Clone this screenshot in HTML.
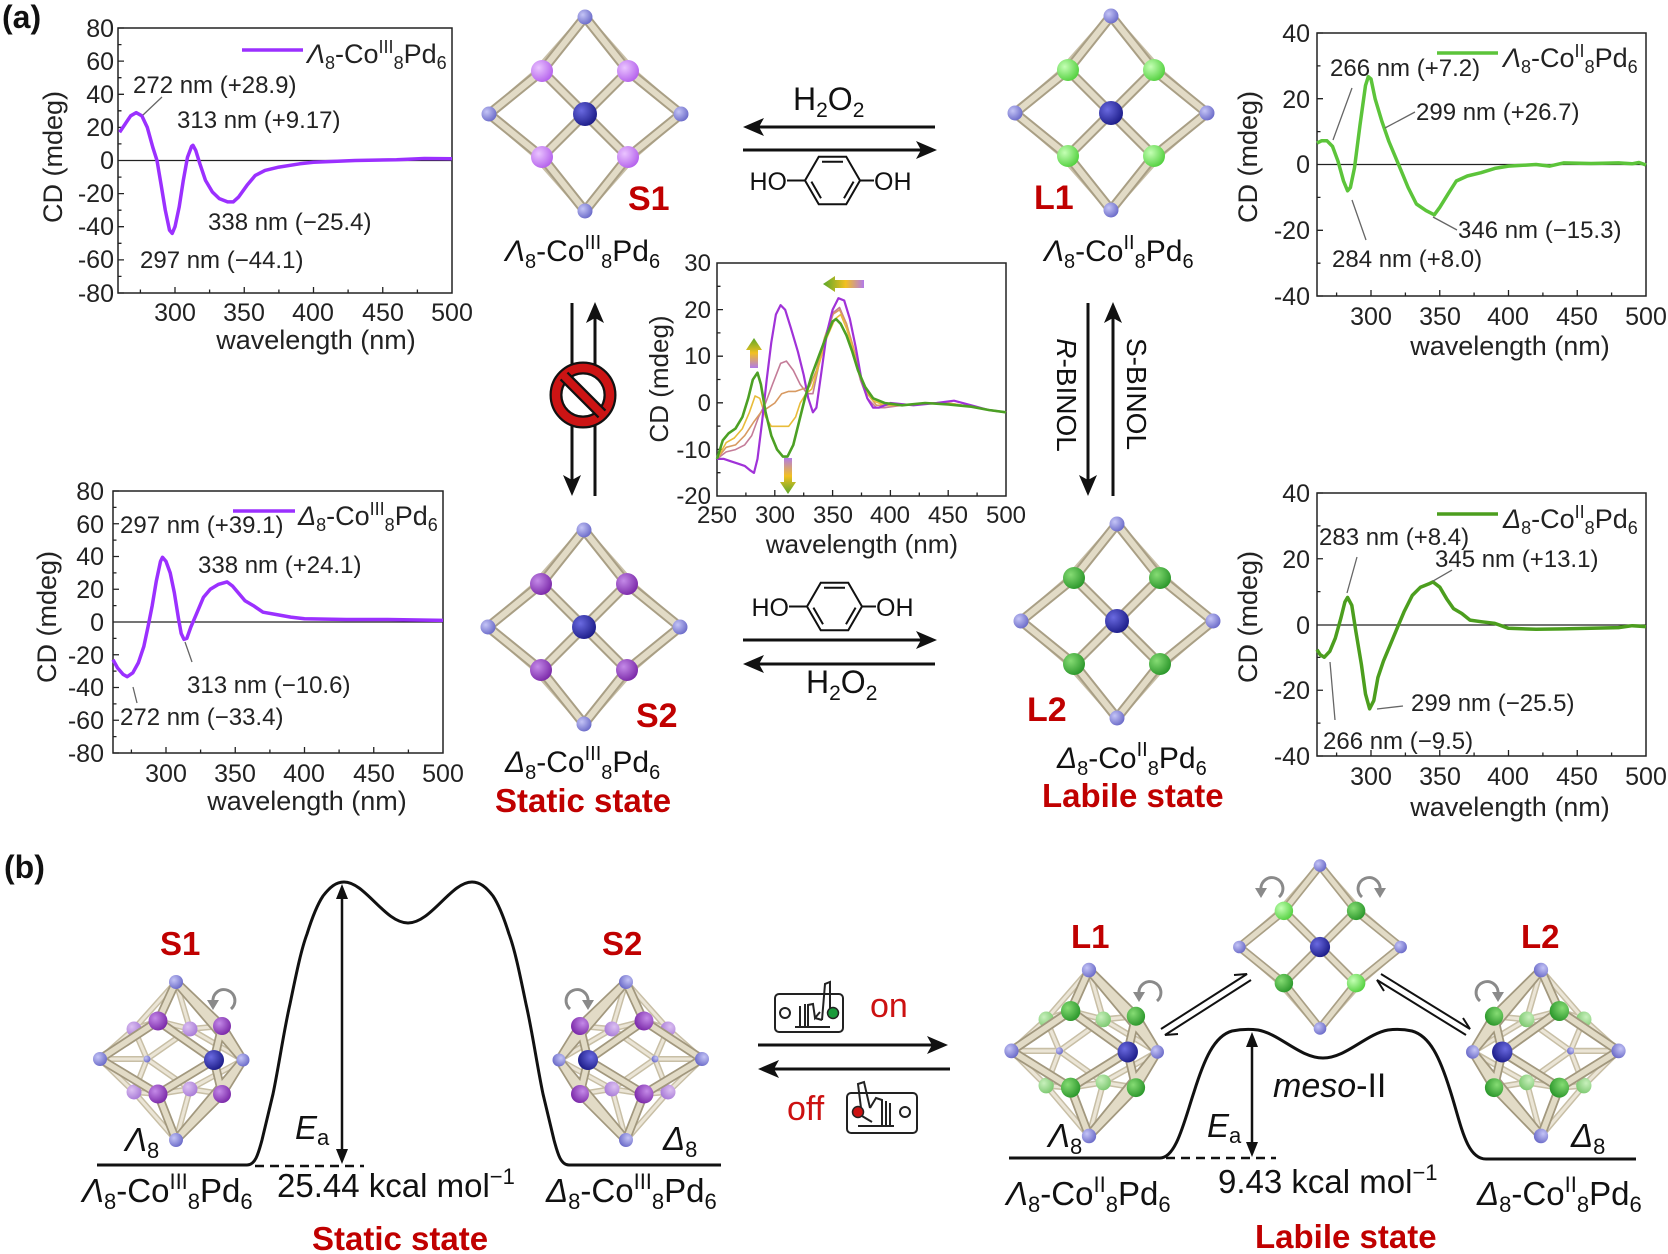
<!DOCTYPE html>
<html><head><meta charset="utf-8">
<style>
html,body{margin:0;padding:0;background:#fff;}
svg{display:block;font-family:"Liberation Sans",Arial,sans-serif;}
</style></head>
<body>
<svg width="1668" height="1254" viewBox="0 0 1668 1254" xmlns="http://www.w3.org/2000/svg">
<defs>
 <radialGradient id="gPd" cx="35%" cy="35%" r="70%"><stop offset="0" stop-color="#c4c4f6"/><stop offset="1" stop-color="#6a6ac8"/></radialGradient>
 <radialGradient id="gCo" cx="35%" cy="35%" r="70%"><stop offset="0" stop-color="#6a6ae0"/><stop offset="1" stop-color="#1c1c88"/></radialGradient>
 <radialGradient id="gPL" cx="35%" cy="35%" r="70%"><stop offset="0" stop-color="#eac4ff"/><stop offset="1" stop-color="#b461ec"/></radialGradient>
 <radialGradient id="gPD" cx="35%" cy="35%" r="70%"><stop offset="0" stop-color="#c48ae8"/><stop offset="1" stop-color="#7a28a8"/></radialGradient>
 <radialGradient id="gPB" cx="35%" cy="35%" r="70%"><stop offset="0" stop-color="#dcc0f2"/><stop offset="1" stop-color="#a77ad6"/></radialGradient>
 <radialGradient id="gGL" cx="35%" cy="35%" r="70%"><stop offset="0" stop-color="#c4ffb4"/><stop offset="1" stop-color="#52d03e"/></radialGradient>
 <radialGradient id="gGD" cx="35%" cy="35%" r="70%"><stop offset="0" stop-color="#86dc74"/><stop offset="1" stop-color="#2a962a"/></radialGradient>
 <radialGradient id="gGB" cx="35%" cy="35%" r="70%"><stop offset="0" stop-color="#c8f0bc"/><stop offset="1" stop-color="#7cc870"/></radialGradient>
 <linearGradient id="gArrH" x1="0" y1="0" x2="1" y2="0"><stop offset="0" stop-color="#5aa82a"/><stop offset="0.55" stop-color="#f2c020"/><stop offset="1" stop-color="#b27ae8"/></linearGradient>
 <linearGradient id="gArrU" x1="0" y1="0" x2="0" y2="1"><stop offset="0" stop-color="#5aa82a"/><stop offset="0.5" stop-color="#f2c020"/><stop offset="1" stop-color="#b27ae8"/></linearGradient>
 <linearGradient id="gArrD" x1="0" y1="1" x2="0" y2="0"><stop offset="0" stop-color="#5aa82a"/><stop offset="0.5" stop-color="#f2c020"/><stop offset="1" stop-color="#b27ae8"/></linearGradient>

 <path id="dRods" d="M0,-97 L-43,-43 L-96,0 L-43,43 L0,97 L43,43 L96,0 L43,-43 Z M-43,-43 L43,43 M43,-43 L-43,43"/>
 <path id="dBack" d="M0,-97 L-52,-38 L-96,0 L-52,38 L0,97 L52,38 L96,0 L52,-38 Z"/>
 <g id="dPd"><circle cx="0" cy="-97" r="7.5"/><circle cx="0" cy="97" r="7.5"/><circle cx="-96" cy="0" r="7.5"/><circle cx="96" cy="0" r="7.5"/></g>
 <g id="dCol"><circle cx="-43" cy="-43" r="11"/><circle cx="43" cy="-43" r="11"/><circle cx="-43" cy="43" r="11"/><circle cx="43" cy="43" r="11"/></g>

 <path id="cBack" d="M0,-79 L-42,-32 M0,-79 L14,-32 M0,79 L-42,31 M0,79 L14,28 M-76,-2 L-42,-32 M-76,-2 L-42,31 M67,-1 L14,-32 M67,-1 L14,28 M-29,-2 L-42,-32 M-29,-2 L-42,31 M-29,-2 L14,-32 M-29,-2 L14,28 M-42,-32 L-18,-40 M14,-32 L46,-35 M-42,31 L-18,33 M14,28 L46,33 M-29,-2 L-76,-2 M14,-32 L-18,-40 M14,28 L-18,33"/>
 <path id="cFront" d="M0,-79 L-18,-40 M0,-79 L46,-35 M0,79 L-18,33 M0,79 L46,33 M-76,-2 L-18,-40 M-76,-2 L-18,33 M-18,-40 L38,-1 M-18,33 L38,-1 M46,-35 L38,-1 M46,33 L38,-1 M46,-35 L67,-1 M46,33 L67,-1 M0,-79 L67,-1 M0,79 L67,-1"/>
 <g id="cPdN"><circle cx="0" cy="-79" r="7"/><circle cx="0" cy="79" r="7"/><circle cx="-76" cy="-2" r="7"/><circle cx="67" cy="-1" r="6.5"/><circle cx="-29" cy="-2" r="3.5"/></g>
 <g id="cBackN"><circle cx="-42" cy="-32" r="7.5"/><circle cx="14" cy="-32" r="7.5"/><circle cx="-42" cy="31" r="7.5"/><circle cx="14" cy="28" r="7.5"/></g>
 <g id="cFrontN"><circle cx="-18" cy="-40" r="9.5"/><circle cx="46" cy="-35" r="9"/><circle cx="-18" cy="33" r="9.5"/><circle cx="46" cy="33" r="9"/></g>

 <g id="hq" fill="none" stroke="#111" stroke-width="2">
  <path d="M805,180.5 L818.75,156.7 L846.25,156.7 L860,180.5 L846.25,204.3 L818.75,204.3 Z"/>
  <path d="M822,161.8 L843,161.8 M811.4,181.6 L821,198.2 M853.6,181.6 L844,198.2 M787,180.5 L805,180.5 M860,180.5 L874,180.5"/>
 </g>
</defs>

<rect width="1668" height="1254" fill="#fff"/>

<!-- panel labels -->
<text x="2" y="28" font-size="32" font-weight="bold" fill="#111">(a)</text>
<text x="4" y="878" font-size="32" font-weight="bold" fill="#111">(b)</text>

<!-- ============ TOP-LEFT PLOT ============ -->
<g fill="#222" font-size="25">
 <rect x="118" y="28" width="334" height="265" fill="none" stroke="#222" stroke-width="1.5"/>
 <line x1="118" y1="160.5" x2="452" y2="160.5" stroke="#222" stroke-width="1.2"/>
 <path stroke="#222" stroke-width="1.3" d="M118,28h6M118,61.1h6M118,94.3h6M118,127.4h6M118,193.6h6M118,226.7h6M118,259.9h6M118,293h6M118,44.6h3.5M118,77.7h3.5M118,110.8h3.5M118,143.9h3.5M118,177.1h3.5M118,210.2h3.5M118,243.3h3.5M118,276.4h3.5M175,293v-6M244.25,293v-6M313.5,293v-6M382.75,293v-6M140.4,293v-3.5M209.6,293v-3.5M278.9,293v-3.5M348.1,293v-3.5M417.4,293v-3.5"/>
 <g text-anchor="end">
  <text x="114" y="37">80</text><text x="114" y="70">60</text><text x="114" y="103">40</text><text x="114" y="136">20</text><text x="114" y="169">0</text><text x="114" y="202">-20</text><text x="114" y="235">-40</text><text x="114" y="268">-60</text><text x="114" y="302">-80</text>
 </g>
 <g text-anchor="middle">
  <text x="175" y="321">300</text><text x="244" y="321">350</text><text x="313" y="321">400</text><text x="383" y="321">450</text><text x="452" y="321">500</text>
  <text x="316" y="349" font-size="27">wavelength (nm)</text>
  <text transform="translate(62,157) rotate(-90)" font-size="27">CD (mdeg)</text>
 </g>
 <polyline fill="none" stroke="#9b30ff" stroke-width="3.5" stroke-linejoin="round" points="119.6,132.3 125.1,124.1 130.7,115.8 136.2,112.6 141.8,115.8 147.3,127.4 152.8,147.3 157,160.5 161.2,185.3 165.3,210.2 169.5,230.1 172.2,233.4 175,226.7 179.2,206.9 183.3,180.4 187.5,157.2 191.6,146.4 193,145.3 195.8,150.6 199.9,163.8 205.5,180.4 212.4,192 219.3,198.6 227.6,201.9 233.2,201.9 238.7,196.9 247,185.3 255.3,175.4 265,170.4 278.9,167.1 299.7,163.8 313.5,162.2 355.1,160.5 396.6,159.7 424.3,158.5 452,158.8"/>
 <line x1="242" y1="50" x2="303" y2="50" stroke="#9b30ff" stroke-width="3.5"/>
 <text x="307" y="63" font-size="27"><tspan font-style="italic">Λ</tspan><tspan font-size="18" dy="6">8</tspan><tspan dy="-6">-Co</tspan><tspan font-size="18" dy="-10">III</tspan><tspan font-size="18" dy="16">8</tspan><tspan dy="-6">Pd</tspan><tspan font-size="18" dy="6">6</tspan></text>
 <line x1="143" y1="115" x2="162" y2="97" stroke="#666" stroke-width="1.3"/>
 <g font-size="24">
  <text x="133" y="93">272 nm (+28.9)</text><text x="177" y="128">313 nm (+9.17)</text><text x="208" y="230">338 nm (−25.4)</text><text x="140" y="268">297 nm (−44.1)</text>
 </g>
</g>

<!-- ============ TOP-RIGHT PLOT ============ -->
<g fill="#222" font-size="25">
 <rect x="1317" y="33" width="329" height="263" fill="none" stroke="#222" stroke-width="1.5"/>
 <line x1="1317" y1="164.5" x2="1646" y2="164.5" stroke="#222" stroke-width="1.2"/>
 <path stroke="#222" stroke-width="1.3" d="M1317,33h6M1317,98.7h6M1317,230.3h6M1317,296h6M1317,65.9h3.5M1317,131.6h3.5M1317,197.4h3.5M1317,263.2h3.5M1371,296v-6M1439.75,296v-6M1508.5,296v-6M1577.25,296v-6M1336.6,296v-3.5M1405.4,296v-3.5M1474.1,296v-3.5M1542.9,296v-3.5M1611.6,296v-3.5"/>
 <g text-anchor="end">
  <text x="1310" y="42">40</text><text x="1310" y="108">20</text><text x="1310" y="173">0</text><text x="1310" y="239">-20</text><text x="1310" y="305">-40</text>
 </g>
 <g text-anchor="middle">
  <text x="1371" y="325">300</text><text x="1440" y="325">350</text><text x="1508" y="325">400</text><text x="1577" y="325">450</text><text x="1646" y="325">500</text>
  <text x="1510" y="355" font-size="27">wavelength (nm)</text>
  <text transform="translate(1257,157) rotate(-90)" font-size="27">CD (mdeg)</text>
 </g>
 <polyline fill="none" stroke="#5cc43a" stroke-width="3.5" stroke-linejoin="round" points="1317,143.1 1321.5,140.8 1327,140.8 1332.5,146.4 1338,161.2 1343.5,181 1347.6,190.8 1350.4,187.5 1354.5,167.8 1360,125 1365.5,85.5 1368.3,76.7 1371,79 1375.1,98.7 1382,121.7 1388.9,141.5 1395.8,157.9 1401.3,171.1 1408.1,187.5 1416.4,204 1426,210.6 1434.3,214.8 1439.8,207.3 1448,194.1 1456.3,181 1467.3,176 1481,172.7 1494.8,168.4 1508.5,166.1 1536,164.5 1549.8,166.1 1563.5,162.9 1591,163.5 1618.5,162.9 1632,163.8 1639,162.5 1646,165"/>
 <line x1="1437" y1="53" x2="1498" y2="53" stroke="#5cc43a" stroke-width="3.5"/>
 <text x="1503" y="67" font-size="27"><tspan font-style="italic">Λ</tspan><tspan font-size="18" dy="6">8</tspan><tspan dy="-6">-Co</tspan><tspan font-size="18" dy="-10">II</tspan><tspan font-size="18" dy="16">8</tspan><tspan dy="-6">Pd</tspan><tspan font-size="18" dy="6">6</tspan></text>
 <path stroke="#666" stroke-width="1.3" fill="none" d="M1333,140 L1352,88 M1352,200 L1366,240 M1385,128 L1415,112 M1433,217 L1457,230"/>
 <g font-size="24">
  <text x="1330" y="76">266 nm (+7.2)</text><text x="1416" y="120">299 nm (+26.7)</text><text x="1458" y="238">346 nm (−15.3)</text><text x="1332" y="267">284 nm (+8.0)</text>
 </g>
</g>

<!-- ============ BOTTOM-LEFT PLOT ============ -->
<g fill="#222" font-size="25">
 <rect x="113" y="491" width="330" height="262" fill="none" stroke="#222" stroke-width="1.5"/>
 <line x1="113" y1="622" x2="443" y2="622" stroke="#222" stroke-width="1.2"/>
 <path stroke="#222" stroke-width="1.3" d="M113,491h6M113,523.75h6M113,556.5h6M113,589.25h6M113,654.75h6M113,687.5h6M113,720.25h6M113,753h6M113,507.4h3.5M113,540.1h3.5M113,572.9h3.5M113,605.6h3.5M113,638.4h3.5M113,671.1h3.5M113,703.9h3.5M113,736.6h3.5M166,753v-6M235.25,753v-6M304.5,753v-6M373.75,753v-6M131.4,753v-3.5M200.6,753v-3.5M269.9,753v-3.5M339.1,753v-3.5M408.4,753v-3.5"/>
 <g text-anchor="end">
  <text x="104" y="500">80</text><text x="104" y="533">60</text><text x="104" y="565">40</text><text x="104" y="598">20</text><text x="104" y="631">0</text><text x="104" y="664">-20</text><text x="104" y="696">-40</text><text x="104" y="729">-60</text><text x="104" y="762">-80</text>
 </g>
 <g text-anchor="middle">
  <text x="166" y="782">300</text><text x="235" y="782">350</text><text x="304" y="782">400</text><text x="374" y="782">450</text><text x="443" y="782">500</text>
  <text x="307" y="810" font-size="27">wavelength (nm)</text>
  <text transform="translate(56,617) rotate(-90)" font-size="27">CD (mdeg)</text>
 </g>
 <polyline fill="none" stroke="#9b30ff" stroke-width="3.5" stroke-linejoin="round" points="113,659.7 117.5,667.9 123.1,674.4 127.2,676.7 132.8,672.8 138.3,662.9 143.8,646.6 148,626.9 152.2,605.6 156.3,581.1 160.5,561.4 162.5,557.3 166,561.4 170.2,572.9 174.3,592.5 178.5,618.7 181.2,633.5 184,639.4 186.8,638.4 190.9,626.9 196.5,613.8 203.4,597.4 210.3,589.3 218.6,584.3 227,581.9 232.5,586 238,592.5 245,600.7 253.3,605.6 263,612.2 276.8,614.6 290.7,617.1 304.5,618.7 346.1,619.5 387.6,619.5 443,620.4"/>
 <line x1="233" y1="511" x2="295" y2="511" stroke="#9b30ff" stroke-width="3.5"/>
 <text x="298" y="525" font-size="27"><tspan font-style="italic">Δ</tspan><tspan font-size="18" dy="6">8</tspan><tspan dy="-6">-Co</tspan><tspan font-size="18" dy="-10">III</tspan><tspan font-size="18" dy="16">8</tspan><tspan dy="-6">Pd</tspan><tspan font-size="18" dy="6">6</tspan></text>
 <path stroke="#666" stroke-width="1.3" fill="none" d="M185,642 L192,662 M133,687 L137,703"/>
 <g font-size="24">
  <text x="120" y="533">297 nm (+39.1)</text><text x="198" y="573">338 nm (+24.1)</text><text x="187" y="693">313 nm (−10.6)</text><text x="120" y="725">272 nm (−33.4)</text>
 </g>
</g>

<!-- ============ BOTTOM-RIGHT PLOT ============ -->
<g fill="#222" font-size="25">
 <rect x="1317" y="493" width="329" height="263" fill="none" stroke="#222" stroke-width="1.5"/>
 <line x1="1317" y1="625" x2="1646" y2="625" stroke="#222" stroke-width="1.2"/>
 <path stroke="#222" stroke-width="1.3" d="M1317,493h6M1317,558.75h6M1317,690.25h6M1317,756h6M1317,525.9h3.5M1317,591.6h3.5M1317,657.4h3.5M1317,723.1h3.5M1371,756v-6M1439.75,756v-6M1508.5,756v-6M1577.25,756v-6M1336.6,756v-3.5M1405.4,756v-3.5M1474.1,756v-3.5M1542.9,756v-3.5M1611.6,756v-3.5"/>
 <g text-anchor="end">
  <text x="1310" y="502">40</text><text x="1310" y="568">20</text><text x="1310" y="634">0</text><text x="1310" y="699">-20</text><text x="1310" y="765">-40</text>
 </g>
 <g text-anchor="middle">
  <text x="1371" y="785">300</text><text x="1440" y="785">350</text><text x="1508" y="785">400</text><text x="1577" y="785">450</text><text x="1646" y="785">500</text>
  <text x="1510" y="816" font-size="27">wavelength (nm)</text>
  <text transform="translate(1257,617) rotate(-90)" font-size="27">CD (mdeg)</text>
 </g>
 <polyline fill="none" stroke="#4c9e1e" stroke-width="3.5" stroke-linejoin="round" points="1317,649.7 1320.1,654.6 1324.3,657.2 1329.8,651.3 1335.3,638.2 1340.8,618.4 1344.9,602 1347.6,597.4 1351.8,605.3 1355.9,631.6 1361.4,664.5 1365.5,694 1369.6,708.8 1373.8,700.6 1377.9,677.6 1383.4,661.2 1390.3,644.7 1397.1,628.3 1404,611.9 1412.3,595.4 1420.5,587.2 1428.8,583.9 1432.9,581.9 1439.8,587.2 1446.6,598.7 1453.5,608.6 1461.8,613.5 1470,620.1 1481,621.7 1494.8,623.4 1508.5,628.3 1536,629.3 1563.5,628.9 1591,628.3 1618.5,627.6 1632.3,625.7 1646,626.6"/>
 <line x1="1437" y1="514" x2="1498" y2="514" stroke="#4c9e1e" stroke-width="3.5"/>
 <text x="1503" y="528" font-size="27"><tspan font-style="italic">Δ</tspan><tspan font-size="18" dy="6">8</tspan><tspan dy="-6">-Co</tspan><tspan font-size="18" dy="-10">II</tspan><tspan font-size="18" dy="16">8</tspan><tspan dy="-6">Pd</tspan><tspan font-size="18" dy="6">6</tspan></text>
 <path stroke="#666" stroke-width="1.3" fill="none" d="M1347,593 L1357,557 M1433,581 L1452,570 M1377,709 L1403,706 M1330,662 L1335,720"/>
 <g font-size="24">
  <text x="1319" y="545">283 nm (+8.4)</text><text x="1435" y="567">345 nm (+13.1)</text><text x="1411" y="711">299 nm (−25.5)</text><text x="1323" y="749">266 nm (−9.5)</text>
 </g>
</g>

<!-- ============ CENTER PLOT ============ -->
<g fill="#222" font-size="24">
 <rect x="717" y="263" width="289" height="233" fill="none" stroke="#222" stroke-width="1.5"/>
 <path stroke="#222" stroke-width="1.3" d="M717,309.6h6M717,356.2h6M717,402.8h6M717,449.4h6M717,286.3h3.5M717,332.9h3.5M717,379.5h3.5M717,426.1h3.5M717,472.7h3.5M774.8,496v-6M832.6,496v-6M890.4,496v-6M948.2,496v-6M745.9,496v-3.5M803.7,496v-3.5M861.5,496v-3.5M919.3,496v-3.5M977.1,496v-3.5"/>
 <g text-anchor="end">
  <text x="711" y="271">30</text><text x="711" y="318">20</text><text x="711" y="364">10</text><text x="711" y="411">0</text><text x="711" y="458">-10</text><text x="711" y="504">-20</text>
 </g>
 <g text-anchor="middle">
  <text x="717" y="523">250</text><text x="775" y="523">300</text><text x="833" y="523">350</text><text x="890" y="523">400</text><text x="948" y="523">450</text><text x="1006" y="523">500</text>
  <text x="862" y="553" font-size="26">wavelength (nm)</text>
  <text transform="translate(668,379) rotate(-90)" font-size="26">CD (mdeg)</text>
 </g>
 <g fill="none" stroke-linejoin="round">
 <polyline stroke="#c47c98" stroke-width="1.6" points="717,458.9 726.2,451.9 735.5,449.6 744.7,444.9 751.7,435.6 758.6,417 765.6,403 772.5,384.4 780.6,363.4 786.4,361.1 793.3,370.4 800.2,384.4 807.2,393.7 812.9,393.7 818.7,365.7 826.8,333.1 833.8,312.1 839.5,307.5 846.5,323.8 853.4,351.7 860.3,379.7 867.3,398.3 876.5,407.7 884.6,407.7 902,405.3 925.1,403 948.2,403 971.3,406.7 988.7,410 1006,412.3"/>
 <polyline stroke="#d89a62" stroke-width="1.6" points="717,458.9 726.2,447.3 735.5,444.9 744.7,435.6 754,421.6 760.9,412.3 767.9,407.7 774.8,403 781.7,393.7 788.7,391.4 795.6,391.4 802.5,389 809.5,386.7 816.4,370.4 824.5,337.8 832.6,314.5 839.5,309.8 846.5,323.8 853.4,347.1 860.3,375 867.3,393.7 876.5,405.3 884.6,405.3 902,405.3 925.1,403 948.2,403 971.3,406.7 988.7,410 1006,412.3"/>
 <polyline stroke="#e8bc3a" stroke-width="1.6" points="717,458.9 726.2,442.6 734.3,438 742.4,428.6 749.4,412.3 755.1,396 759.8,398.3 765.6,417 771.3,426.3 780.6,426.3 788.7,426.3 795.6,417 800.2,403 806,393.7 811.8,389 818.7,365.7 826.8,337.8 834.9,319.1 840.7,314.5 846.5,328.4 852.3,347.1 858,370.4 865,389 873.1,400.7 884.6,405.3 902,405.3 925.1,403 948.2,403 971.3,406.7 988.7,410 1006,412.3"/>
 <polyline stroke="#a032d8" stroke-width="2.2" points="717,458.9 723.9,458.9 730.9,461.3 737.8,463.6 744.7,465.9 750.5,470.6 754,472.9 757.5,458.9 762.1,421.6 766.7,379.7 771.3,342.4 775.9,314.5 780.6,305.1 785.2,309.8 791,328.4 797.9,351.7 803.7,375 808.3,398.3 812.9,412.3 816.4,407.7 821,375 826.8,333.1 832.6,309.8 838.4,298.2 844.2,300.5 849.9,319.1 855.7,347.1 861.5,379.7 867.3,398.3 873.1,407.7 878.8,407.7 890.4,403 913.5,405.3 936.6,403 954,400.7 971.3,405.3 988.7,410 1006,412.3"/>
 <polyline stroke="#4ca024" stroke-width="2.6" points="717,458.9 722.8,440.3 728.6,433.3 735.5,428.6 742.4,417 748.2,398.3 752.8,379.7 757.5,372.7 760.9,384.4 765.6,412.3 771.3,435.6 777.1,449.6 782.9,456.6 787.5,456.6 793.3,444.9 799.1,421.6 804.9,398.3 811.8,375 818.7,356.4 825.7,337.8 832.6,321.4 836.1,319.1 840.7,323.8 846.5,335.4 852.3,351.7 858,370.4 865,386.7 873.1,398.3 884.6,403 902,405.3 925.1,403 948.2,404.4 971.3,406.7 988.7,410 1006,412.3"/>
 </g>
 <path fill="url(#gArrH)" d="M823,284 L835,276 L835,280 L864,280 L864,288 L835,288 L835,292 Z"/>
 <path fill="url(#gArrU)" d="M754,338 L762,350 L758,350 L758,368 L750,368 L750,350 L746,350 Z"/>
 <path fill="url(#gArrD)" d="M788,494 L780,482 L784,482 L784,458 L792,458 L792,482 L796,482 Z"/>
</g>

<!-- ============ STRUCTURES (a) ============ -->
<g stroke-linejoin="round" stroke-linecap="round">
 <g transform="translate(585,114)">
  <use href="#dBack" fill="none" stroke="#c9c0a8" stroke-width="8"/><use href="#dBack" fill="none" stroke="#ebe5d6" stroke-width="4"/>
  <use href="#dRods" fill="none" stroke="#a99f85" stroke-width="10"/><use href="#dRods" fill="none" stroke="#e2dbc6" stroke-width="6"/>
  <use href="#dPd" fill="url(#gPd)"/><use href="#dCol" fill="url(#gPL)"/><circle r="12" fill="url(#gCo)"/>
 </g>
 <g transform="translate(1111,113)">
  <use href="#dBack" fill="none" stroke="#c9c0a8" stroke-width="8"/><use href="#dBack" fill="none" stroke="#ebe5d6" stroke-width="4"/>
  <use href="#dRods" fill="none" stroke="#a99f85" stroke-width="10"/><use href="#dRods" fill="none" stroke="#e2dbc6" stroke-width="6"/>
  <use href="#dPd" fill="url(#gPd)"/><use href="#dCol" fill="url(#gGL)"/><circle r="12" fill="url(#gCo)"/>
 </g>
 <g transform="translate(584,627)">
  <use href="#dBack" fill="none" stroke="#c9c0a8" stroke-width="8"/><use href="#dBack" fill="none" stroke="#ebe5d6" stroke-width="4"/>
  <use href="#dRods" fill="none" stroke="#a99f85" stroke-width="10"/><use href="#dRods" fill="none" stroke="#e2dbc6" stroke-width="6"/>
  <use href="#dPd" fill="url(#gPd)"/><use href="#dCol" fill="url(#gPD)"/><circle r="12" fill="url(#gCo)"/>
 </g>
 <g transform="translate(1117,621)">
  <use href="#dBack" fill="none" stroke="#c9c0a8" stroke-width="8"/><use href="#dBack" fill="none" stroke="#ebe5d6" stroke-width="4"/>
  <use href="#dRods" fill="none" stroke="#a99f85" stroke-width="10"/><use href="#dRods" fill="none" stroke="#e2dbc6" stroke-width="6"/>
  <use href="#dPd" fill="url(#gPd)"/><use href="#dCol" fill="url(#gGD)"/><circle r="12" fill="url(#gCo)"/>
 </g>
</g>

<!-- labels (a) -->
<g fill="#c00000" font-weight="bold" font-size="34">
 <text x="628" y="210">S1</text><text x="1034" y="209">L1</text><text x="636" y="727">S2</text><text x="1027" y="721">L2</text>
 <text x="495" y="812" font-size="33">Static state</text><text x="1042" y="807" font-size="33">Labile state</text>
</g>
<g fill="#111" font-size="30">
 <text x="505" y="261"><tspan font-style="italic">Λ</tspan><tspan font-size="20" dy="7">8</tspan><tspan dy="-7">-Co</tspan><tspan font-size="20" dy="-12">III</tspan><tspan font-size="20" dy="19">8</tspan><tspan dy="-7">Pd</tspan><tspan font-size="20" dy="7">6</tspan></text>
 <text x="1044" y="261"><tspan font-style="italic">Λ</tspan><tspan font-size="20" dy="7">8</tspan><tspan dy="-7">-Co</tspan><tspan font-size="20" dy="-12">II</tspan><tspan font-size="20" dy="19">8</tspan><tspan dy="-7">Pd</tspan><tspan font-size="20" dy="7">6</tspan></text>
 <text x="505" y="772"><tspan font-style="italic">Δ</tspan><tspan font-size="20" dy="7">8</tspan><tspan dy="-7">-Co</tspan><tspan font-size="20" dy="-12">III</tspan><tspan font-size="20" dy="19">8</tspan><tspan dy="-7">Pd</tspan><tspan font-size="20" dy="7">6</tspan></text>
 <text x="1057" y="768"><tspan font-style="italic">Δ</tspan><tspan font-size="20" dy="7">8</tspan><tspan dy="-7">-Co</tspan><tspan font-size="20" dy="-12">II</tspan><tspan font-size="20" dy="19">8</tspan><tspan dy="-7">Pd</tspan><tspan font-size="20" dy="7">6</tspan></text>
 <text x="793" y="110" font-size="32">H<tspan font-size="21" dy="7">2</tspan><tspan dy="-7">O</tspan><tspan font-size="21" dy="7">2</tspan></text>
 <text x="806" y="693" font-size="32">H<tspan font-size="21" dy="7">2</tspan><tspan dy="-7">O</tspan><tspan font-size="21" dy="7">2</tspan></text>
 <text x="787" y="190" font-size="25" text-anchor="end">HO</text><text x="874" y="190" font-size="25">OH</text>
 <text x="789" y="616" font-size="25" text-anchor="end">HO</text><text x="876" y="616" font-size="25">OH</text>
</g>
<use href="#hq"/>
<use href="#hq" transform="translate(2,426)"/>

<!-- reaction arrows (a) -->
<g stroke="#111" stroke-width="3" fill="#111">
 <line x1="750" y1="127" x2="935" y2="127"/><path stroke="none" d="M743,127 L764,118 L759,127 L764,136 Z"/>
 <line x1="743" y1="150" x2="930" y2="150"/><path stroke="none" d="M937,150 L916,141 L921,150 L916,159 Z"/>
 <line x1="743" y1="640" x2="930" y2="640"/><path stroke="none" d="M937,640 L916,631 L921,640 L916,649 Z"/>
 <line x1="750" y1="664" x2="935" y2="664"/><path stroke="none" d="M743,664 L764,655 L759,664 L764,673 Z"/>
 <line x1="572" y1="303" x2="572" y2="489"/><path stroke="none" d="M572,496 L563,475 L572,480 L581,475 Z"/>
 <line x1="595" y1="309" x2="595" y2="496"/><path stroke="none" d="M595,302 L586,323 L595,318 L604,323 Z"/>
 <line x1="1088" y1="303" x2="1088" y2="489"/><path stroke="none" d="M1088,496 L1079,475 L1088,480 L1097,475 Z"/>
 <line x1="1113" y1="309" x2="1113" y2="496"/><path stroke="none" d="M1113,302 L1104,323 L1113,318 L1122,323 Z"/>
</g>
<!-- prohibition sign -->
<g transform="translate(583,395)">
 <circle r="27" fill="#fff" stroke="#111" stroke-width="13"/>
 <circle r="27" fill="none" stroke="#cc1414" stroke-width="8.5"/>
 <line x1="-19" y1="-19" x2="19" y2="19" stroke="#111" stroke-width="12"/>
 <line x1="-20" y1="-20" x2="20" y2="20" stroke="#cc1414" stroke-width="7.5"/>
</g>
<g fill="#111" font-size="28" text-anchor="middle">
 <text transform="translate(1057,395) rotate(90)"><tspan font-style="italic">R</tspan>-BINOL</text>
 <text transform="translate(1127,394) rotate(90)">S-BINOL</text>
</g>

<!-- ============ PART (b) ============ -->
<g fill="none" stroke="#111" stroke-width="3">
 <path d="M97,1165 L247,1165 C255,1165 258,1155 262,1140 L273,1094 C279,1065 284,1030 290,1004 C296,975 301,950 307,934 C312,918 317,905 323,896 C330,887 336,882 344,882 C365,882 385,923 408,923 C431,923 451,882 472,882 C480,882 486,887 493,896 C499,905 504,918 509,934 C515,950 520,975 526,1004 C532,1030 537,1065 543,1094 L554,1140 C558,1155 561,1165 569,1165 L721,1165"/>
 <path d="M1009,1158 L1160,1158 C1176,1158 1184,1122 1194,1092 C1204,1060 1214,1036 1232,1031 C1242,1029 1250,1029 1258,1030 C1280,1034 1300,1058 1323,1058 C1346,1058 1366,1034 1388,1030 C1396,1029 1403,1029 1412,1031 C1430,1036 1440,1058 1450,1090 C1461,1124 1466,1159 1486,1159 L1636,1159"/>
 <line x1="255" y1="1166" x2="364" y2="1166" stroke-width="2.5" stroke-dasharray="9,6"/>
 <line x1="1166" y1="1158" x2="1276" y2="1158" stroke-width="2.5" stroke-dasharray="9,6"/>
 <line x1="342" y1="896" x2="342" y2="1152" stroke-width="2.5"/>
 <line x1="1252" y1="1044" x2="1252" y2="1146" stroke-width="2.5"/>
</g>
<g fill="#111">
 <path d="M342,884 L336,899 L348,899 Z"/><path d="M342,1164 L336,1149 L348,1149 Z"/>
 <path d="M1252,1032 L1246,1047 L1258,1047 Z"/><path d="M1252,1157 L1246,1142 L1258,1142 Z"/>
</g>

<!-- cages (b) -->
<g stroke-linejoin="round" stroke-linecap="round">
 <g transform="translate(176,1061)">
  <use href="#cBack" stroke="#c8bfa6" stroke-width="6"/><use href="#cBack" stroke="#ebe5d6" stroke-width="3"/>
  <use href="#cBackN" fill="url(#gPB)"/>
  <use href="#cFront" stroke="#a2987e" stroke-width="9"/><use href="#cFront" stroke="#e2dbc6" stroke-width="5.5"/>
  <use href="#cPdN" fill="url(#gPd)"/><use href="#cFrontN" fill="url(#gPD)"/><circle cx="38" cy="-1" r="10" fill="url(#gCo)"/>
 </g>
 <g transform="translate(626,1061) scale(-1,1)">
  <use href="#cBack" stroke="#c8bfa6" stroke-width="6"/><use href="#cBack" stroke="#ebe5d6" stroke-width="3"/>
  <use href="#cBackN" fill="url(#gPB)"/>
  <use href="#cFront" stroke="#a2987e" stroke-width="9"/><use href="#cFront" stroke="#e2dbc6" stroke-width="5.5"/>
  <use href="#cPdN" fill="url(#gPd)"/><use href="#cFrontN" fill="url(#gPD)"/><circle cx="38" cy="-1" r="10" fill="url(#gCo)"/>
 </g>
 <g transform="translate(1089,1053) scale(1.02,1.05)">
  <use href="#cBack" stroke="#c8bfa6" stroke-width="6"/><use href="#cBack" stroke="#ebe5d6" stroke-width="3"/>
  <use href="#cBackN" fill="url(#gGB)"/>
  <use href="#cFront" stroke="#a2987e" stroke-width="9"/><use href="#cFront" stroke="#e2dbc6" stroke-width="5.5"/>
  <use href="#cPdN" fill="url(#gPd)"/><use href="#cFrontN" fill="url(#gGD)"/><circle cx="38" cy="-1" r="10" fill="url(#gCo)"/>
 </g>
 <g transform="translate(1541,1053) scale(-1.02,1.05)">
  <use href="#cBack" stroke="#c8bfa6" stroke-width="6"/><use href="#cBack" stroke="#ebe5d6" stroke-width="3"/>
  <use href="#cBackN" fill="url(#gGB)"/>
  <use href="#cFront" stroke="#a2987e" stroke-width="9"/><use href="#cFront" stroke="#e2dbc6" stroke-width="5.5"/>
  <use href="#cPdN" fill="url(#gPd)"/><use href="#cFrontN" fill="url(#gGD)"/><circle cx="38" cy="-1" r="10" fill="url(#gCo)"/>
 </g>
 <g transform="translate(1320,947) scale(0.84)">
  <use href="#dBack" fill="none" stroke="#c9c0a8" stroke-width="8"/><use href="#dBack" fill="none" stroke="#ebe5d6" stroke-width="4"/>
  <use href="#dRods" fill="none" stroke="#a99f85" stroke-width="10"/><use href="#dRods" fill="none" stroke="#e2dbc6" stroke-width="6"/>
  <use href="#dPd" fill="url(#gPd)"/>
  <circle cx="-43" cy="-43" r="11" fill="url(#gGL)"/><circle cx="43" cy="-43" r="11" fill="url(#gGD)"/>
  <circle cx="-43" cy="43" r="11" fill="url(#gGD)"/><circle cx="43" cy="43" r="11" fill="url(#gGL)"/>
  <circle r="12" fill="url(#gCo)"/>
 </g>
</g>

<!-- rotation arrows -->
<g fill="none" stroke="#8a8a8a" stroke-width="3">
 <path d="M231,1009 A11,11 0 1,0 213,1002"/>
 <path d="M570,1009 A11,11 0 1,1 588,1002"/>
 <path d="M1157,1001 A11,11 0 1,0 1139,994"/>
 <path d="M1480,1001 A11,11 0 1,1 1498,994"/>
 <path d="M1279,897 A11,11 0 1,0 1261,890"/>
 <path d="M1362,897 A11,11 0 1,1 1380,890"/>
</g>
<g fill="#8a8a8a">
 <path d="M207,1000 L219,1000 L213,1010 Z"/><path d="M582,1000 L594,1000 L588,1010 Z"/>
 <path d="M1133,992 L1145,992 L1139,1002 Z"/><path d="M1492,992 L1504,992 L1498,1002 Z"/>
 <path d="M1255,888 L1267,888 L1261,898 Z"/><path d="M1374,888 L1386,888 L1380,898 Z"/>
</g>

<!-- equilibrium harpoons -->
<g stroke="#111" stroke-width="2" fill="none">
 <path d="M1161,1029 L1247,974 L1234,975"/>
 <path d="M1251,980 L1165,1035 L1178,1034"/>
 <path d="M1381,974 L1470,1029 L1463,1018"/>
 <path d="M1466,1035 L1377,980 L1384,991"/>
</g>

<!-- on/off arrows -->
<g stroke="#111" stroke-width="3" fill="#111">
 <line x1="758" y1="1045" x2="941" y2="1045"/><path stroke="none" d="M948,1045 L927,1036 L932,1045 L927,1054 Z"/>
 <line x1="765" y1="1069" x2="950" y2="1069"/><path stroke="none" d="M758,1069 L779,1060 L774,1069 L779,1078 Z"/>
</g>
<!-- switch icons -->
<g fill="none" stroke="#222" stroke-width="2">
 <rect x="775" y="994" width="68" height="38" rx="4" fill="#fff"/>
 <circle cx="785" cy="1013" r="5"/>
 <path d="M795,1027 L830,1027 M800,1027 L800,1006 M805,1027 L805,1004 M808,1027 L808,1005 L813,1004 L815,1018 L820,1012 M822,1020 L825,984 L830,982 L830,1012 M815,1018 L822,1020"/>
 <rect x="847" y="1093" width="70" height="40" rx="4" fill="#fff"/>
 <circle cx="905" cy="1112" r="5"/>
 <path d="M858,1126 L894,1126 M890,1126 L890,1103 M886,1126 L886,1101 M862,1116 L858,1084 L864,1082 L870,1108 M870,1108 L876,1098 L882,1100 L882,1126 M862,1116 L872,1122"/>
</g>
<circle cx="833" cy="1013" r="5.5" fill="#1a9a3a" stroke="#222" stroke-width="1.5"/>
<circle cx="858" cy="1112" r="5.5" fill="#cc1111" stroke="#222" stroke-width="1.5"/>
<g fill="#cc1111" font-size="34">
 <text x="870" y="1017">on</text><text x="787" y="1120">off</text>
</g>

<!-- labels (b) -->
<g fill="#c00000" font-weight="bold" font-size="33">
 <text x="160" y="955">S1</text><text x="602" y="955">S2</text>
 <text x="1071" y="948">L1</text><text x="1521" y="948">L2</text>
 <text x="312" y="1250">Static state</text><text x="1255" y="1248">Labile state</text>
</g>
<g fill="#111" font-size="33">
 <text x="82" y="1202"><tspan font-style="italic">Λ</tspan><tspan font-size="22" dy="7">8</tspan><tspan dy="-7">-Co</tspan><tspan font-size="22" dy="-13">III</tspan><tspan font-size="22" dy="20">8</tspan><tspan dy="-7">Pd</tspan><tspan font-size="22" dy="7">6</tspan></text>
 <text x="546" y="1202"><tspan font-style="italic">Δ</tspan><tspan font-size="22" dy="7">8</tspan><tspan dy="-7">-Co</tspan><tspan font-size="22" dy="-13">III</tspan><tspan font-size="22" dy="20">8</tspan><tspan dy="-7">Pd</tspan><tspan font-size="22" dy="7">6</tspan></text>
 <text x="1006" y="1205"><tspan font-style="italic">Λ</tspan><tspan font-size="22" dy="7">8</tspan><tspan dy="-7">-Co</tspan><tspan font-size="22" dy="-13">II</tspan><tspan font-size="22" dy="20">8</tspan><tspan dy="-7">Pd</tspan><tspan font-size="22" dy="7">6</tspan></text>
 <text x="1477" y="1205"><tspan font-style="italic">Δ</tspan><tspan font-size="22" dy="7">8</tspan><tspan dy="-7">-Co</tspan><tspan font-size="22" dy="-13">II</tspan><tspan font-size="22" dy="20">8</tspan><tspan dy="-7">Pd</tspan><tspan font-size="22" dy="7">6</tspan></text>
 <text x="277" y="1197">25.44 kcal mol<tspan font-size="22" dy="-13">−1</tspan></text>
 <text x="1218" y="1193">9.43 kcal mol<tspan font-size="22" dy="-13">−1</tspan></text>
 <text x="295" y="1139"><tspan font-style="italic">E</tspan><tspan font-size="22" dy="6">a</tspan></text>
 <text x="1207" y="1137"><tspan font-style="italic">E</tspan><tspan font-size="22" dy="6">a</tspan></text>
 <text x="1273" y="1097" font-size="34"><tspan font-style="italic">meso</tspan>-II</text>
 <text x="125" y="1151"><tspan font-style="italic">Λ</tspan><tspan font-size="22" dy="7">8</tspan></text>
 <text x="663" y="1150"><tspan font-style="italic">Δ</tspan><tspan font-size="22" dy="7">8</tspan></text>
 <text x="1048" y="1147"><tspan font-style="italic">Λ</tspan><tspan font-size="22" dy="7">8</tspan></text>
 <text x="1571" y="1147"><tspan font-style="italic">Δ</tspan><tspan font-size="22" dy="7">8</tspan></text>
</g>
</svg>
</body></html>
